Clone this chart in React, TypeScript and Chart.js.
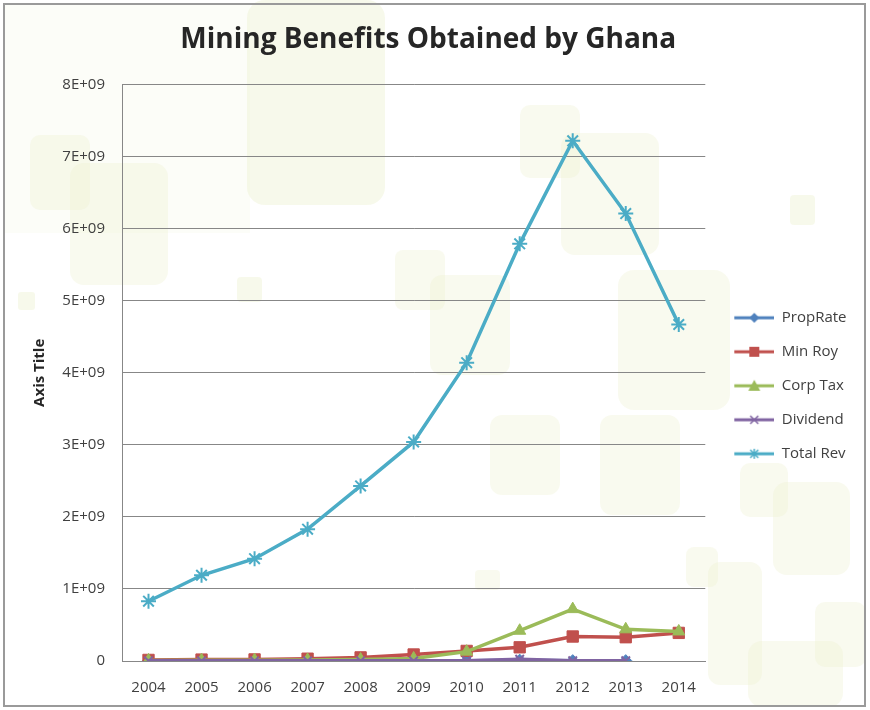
import React, { useEffect, useRef } from "react";
import { Chart, registerables } from "chart.js";

Chart.register(...registerables);

const years = ["2004", "2005", "2006", "2007", "2008", "2009", "2010", "2011", "2012", "2013", "2014"];
const propRate = [0.005e9, 0.005e9, 0.005e9, 0.005e9, 0.005e9, 0.005e9, 0.005e9, 0.012e9, 0.005e9, 0.005e9, null];
const minRoy = [0.015e9, 0.02e9, 0.022e9, 0.032e9, 0.05e9, 0.09e9, 0.14e9, 0.19e9, 0.34e9, 0.33e9, 0.39e9];
const corpTax = [0.008e9, 0.01e9, 0.012e9, 0.015e9, 0.02e9, 0.035e9, 0.13e9, 0.42e9, 0.72e9, 0.44e9, 0.41e9];
const dividend = [0.002e9, 0.002e9, 0.002e9, 0.002e9, 0.002e9, 0.002e9, 0.003e9, 0.025e9, 0.003e9, 0.003e9, null];
const totalRev = [0.83e9, 1.19e9, 1.42e9, 1.83e9, 2.43e9, 3.04e9, 4.14e9, 5.79e9, 7.22e9, 6.21e9, 4.67e9];
const yTicks = [0, 1e9, 2e9, 3e9, 4e9, 5e9, 6e9, 7e9, 8e9];

const seriesNames = ["PropRate", "Min Roy", "Corp Tax", "Dividend", "Total Rev"];
const seriesColors = ["#4f81bd", "#c0504d", "#9bbb59", "#8064a2", "#4bacc6"];
const seriesStyles = ["rectRot", "rect", "triangle", "crossRot", "star"];

const A = "rgba(238,242,210,0.35)";
const B = "rgba(238,242,210,0.45)";
const decorations = [
  { x: 5, y: 5, w: 245, h: 228, c: "rgba(244,247,226,0.25)", r: 0 },
  { x: 247, y: 0, w: 138, h: 205, c: B, r: 18 },
  { x: 30, y: 135, w: 60, h: 75, c: A, r: 10 },
  { x: 70, y: 163, w: 98, h: 122, c: A, r: 14 },
  { x: 237, y: 277, w: 25, h: 25, c: B, r: 4 },
  { x: 18, y: 292, w: 17, h: 18, c: B, r: 3 },
  { x: 395, y: 250, w: 50, h: 60, c: A, r: 8 },
  { x: 430, y: 275, w: 80, h: 100, c: A, r: 12 },
  { x: 520, y: 105, w: 60, h: 73, c: A, r: 10 },
  { x: 561, y: 133, w: 98, h: 122, c: A, r: 14 },
  { x: 618, y: 270, w: 112, h: 140, c: A, r: 16 },
  { x: 490, y: 415, w: 70, h: 80, c: A, r: 12 },
  { x: 600, y: 415, w: 80, h: 100, c: A, r: 12 },
  { x: 790, y: 195, w: 25, h: 30, c: B, r: 4 },
  { x: 740, y: 463, w: 48, h: 54, c: A, r: 10 },
  { x: 773, y: 482, w: 77, h: 93, c: A, r: 14 },
  { x: 686, y: 547, w: 32, h: 40, c: A, r: 8 },
  { x: 708, y: 562, w: 54, h: 123, c: A, r: 12 },
  { x: 748, y: 641, w: 95, h: 66, c: A, r: 14 },
  { x: 815, y: 602, w: 51, h: 65, c: A, r: 10 },
  { x: 475, y: 570, w: 25, h: 20, c: A, r: 4 },
];

function makeIcon(color: string, style: string): HTMLCanvasElement {
  const c = document.createElement("canvas");
  c.width = 50;
  c.height = 16;
  const ctx = c.getContext("2d")!;
  const cy = 8;
  const cx = 30;
  ctx.strokeStyle = color;
  ctx.fillStyle = color;
  ctx.lineWidth = 3;
  ctx.beginPath();
  ctx.moveTo(10, cy);
  ctx.lineTo(50, cy);
  ctx.stroke();
  ctx.lineWidth = 1.5;
  const r = 5;
  ctx.beginPath();
  if (style === "rectRot") {
    ctx.moveTo(cx, cy - r);
    ctx.lineTo(cx + r, cy);
    ctx.lineTo(cx, cy + r);
    ctx.lineTo(cx - r, cy);
    ctx.closePath();
    ctx.fill();
  } else if (style === "rect") {
    ctx.rect(cx - 5, cy - 5, 10, 10);
    ctx.fill();
  } else if (style === "triangle") {
    ctx.moveTo(cx, cy - 6);
    ctx.lineTo(cx + 6, cy + 5);
    ctx.lineTo(cx - 6, cy + 5);
    ctx.closePath();
    ctx.fill();
  } else if (style === "crossRot") {
    ctx.moveTo(cx - 4, cy - 4);
    ctx.lineTo(cx + 4, cy + 4);
    ctx.moveTo(cx + 4, cy - 4);
    ctx.lineTo(cx - 4, cy + 4);
    ctx.stroke();
  } else {
    ctx.moveTo(cx - 4, cy - 4);
    ctx.lineTo(cx + 4, cy + 4);
    ctx.moveTo(cx + 4, cy - 4);
    ctx.lineTo(cx - 4, cy + 4);
    ctx.moveTo(cx, cy - 5);
    ctx.lineTo(cx, cy + 5);
    ctx.stroke();
  }
  return c;
}

export default function App() {
  const ref = useRef<HTMLCanvasElement | null>(null);

  useEffect(() => {
    document.body.style.margin = "0";
    if (!ref.current) return;
    Chart.defaults.font.family = "'Open Sans', sans-serif";
    const icons = seriesNames.map((_, i) => makeIcon(seriesColors[i], seriesStyles[i]));
    const values = [propRate, minRoy, corpTax, dividend, totalRev];
    const radii = [6, 8, 7, 6, 7.5];
    const datasets = values.map((v, i) => ({
      label: seriesNames[i],
      data: v,
      borderColor: seriesColors[i],
      backgroundColor: seriesColors[i],
      borderWidth: 3.5,
      pointStyle: seriesStyles[i] as any,
      pointRadius: radii[i],
      pointBorderWidth: i >= 3 ? 2 : 1,
      pointBackgroundColor: seriesColors[i],
      pointBorderColor: seriesColors[i],
      order: 5 - i,
      spanGaps: false,
    }));

    const chart = new Chart(ref.current, {
      type: "line",
      data: { labels: years, datasets },
      options: {
        animation: false,
        responsive: false,
        layout: { padding: { left: 0, right: 13.5, top: 0, bottom: 0 } },
        plugins: {
          title: {
            display: true,
            text: "Mining Benefits Obtained by Ghana",
            color: "#262626",
            font: { size: 28, weight: "bold" },
            padding: { top: 23, bottom: 28 },
          },
          legend: {
            position: "right",
            fullSize: false,
            title: { display: true, text: " ", padding: { top: 4, bottom: 4 }, font: { size: 15 } },
            labels: {
              usePointStyle: true,
              pointStyleWidth: 50,
              padding: 19,
              color: "#404040",
              font: { size: 15 },
              generateLabels: (ch: any) => {
                const items = (Chart.defaults.plugins.legend.labels as any).generateLabels(ch);
                return items.map((it: any) => ({ ...it, pointStyle: icons[it.datasetIndex] }));
              },
              sort: (a: any, b: any) => a.datasetIndex - b.datasetIndex,
            },
          },
          tooltip: { enabled: false },
        },
        scales: {
          x: {
            offset: true,
            grid: { display: false, drawTicks: false },
            border: { display: true, color: "#878787", width: 1 },
            ticks: { color: "#404040", font: { size: 15 }, padding: 18, maxRotation: 0, autoSkip: false },
            afterFit: (s: any) => {
              s.height = 49;
            },
          },
          y: {
            min: 0,
            max: 8e9,
            grid: { color: "#878787", lineWidth: 1, drawTicks: false },
            border: { display: true, color: "#878787", width: 1 },
            afterBuildTicks: (s: any) => {
              s.ticks = yTicks.map((v) => ({ value: v }));
            },
            ticks: {
              color: "#404040",
              font: { size: 15 },
              padding: 17,
              callback: (v: any) => (Number(v) === 0 ? "0" : `${Number(v) / 1e9}E+09`),
            },
            title: {
              display: true,
              text: "Axis Title",
              color: "#262626",
              font: { size: 15, weight: "bold" },
              padding: { top: 31, bottom: 0 },
            },
            afterFit: (s: any) => {
              s.width = 122;
            },
          },
        },
      },
    });
    return () => chart.destroy();
  }, []);

  return (
    <div style={{ position: "relative", width: 870, height: 710, background: "#ffffff", overflow: "hidden" }}>
      {decorations.map((d, i) => (
        <div
          key={i}
          style={{
            position: "absolute",
            left: d.x,
            top: d.y,
            width: d.w,
            height: d.h,
            background: d.c,
            borderRadius: d.r,
          }}
        />
      ))}
      <div
        style={{
          position: "absolute",
          left: 3,
          top: 3,
          width: 859,
          height: 700,
          border: "2px solid #9a9a9a",
        }}
      />
      <canvas ref={ref} width={870} height={710} style={{ position: "absolute", left: 0, top: 0 }} />
    </div>
  );
}
